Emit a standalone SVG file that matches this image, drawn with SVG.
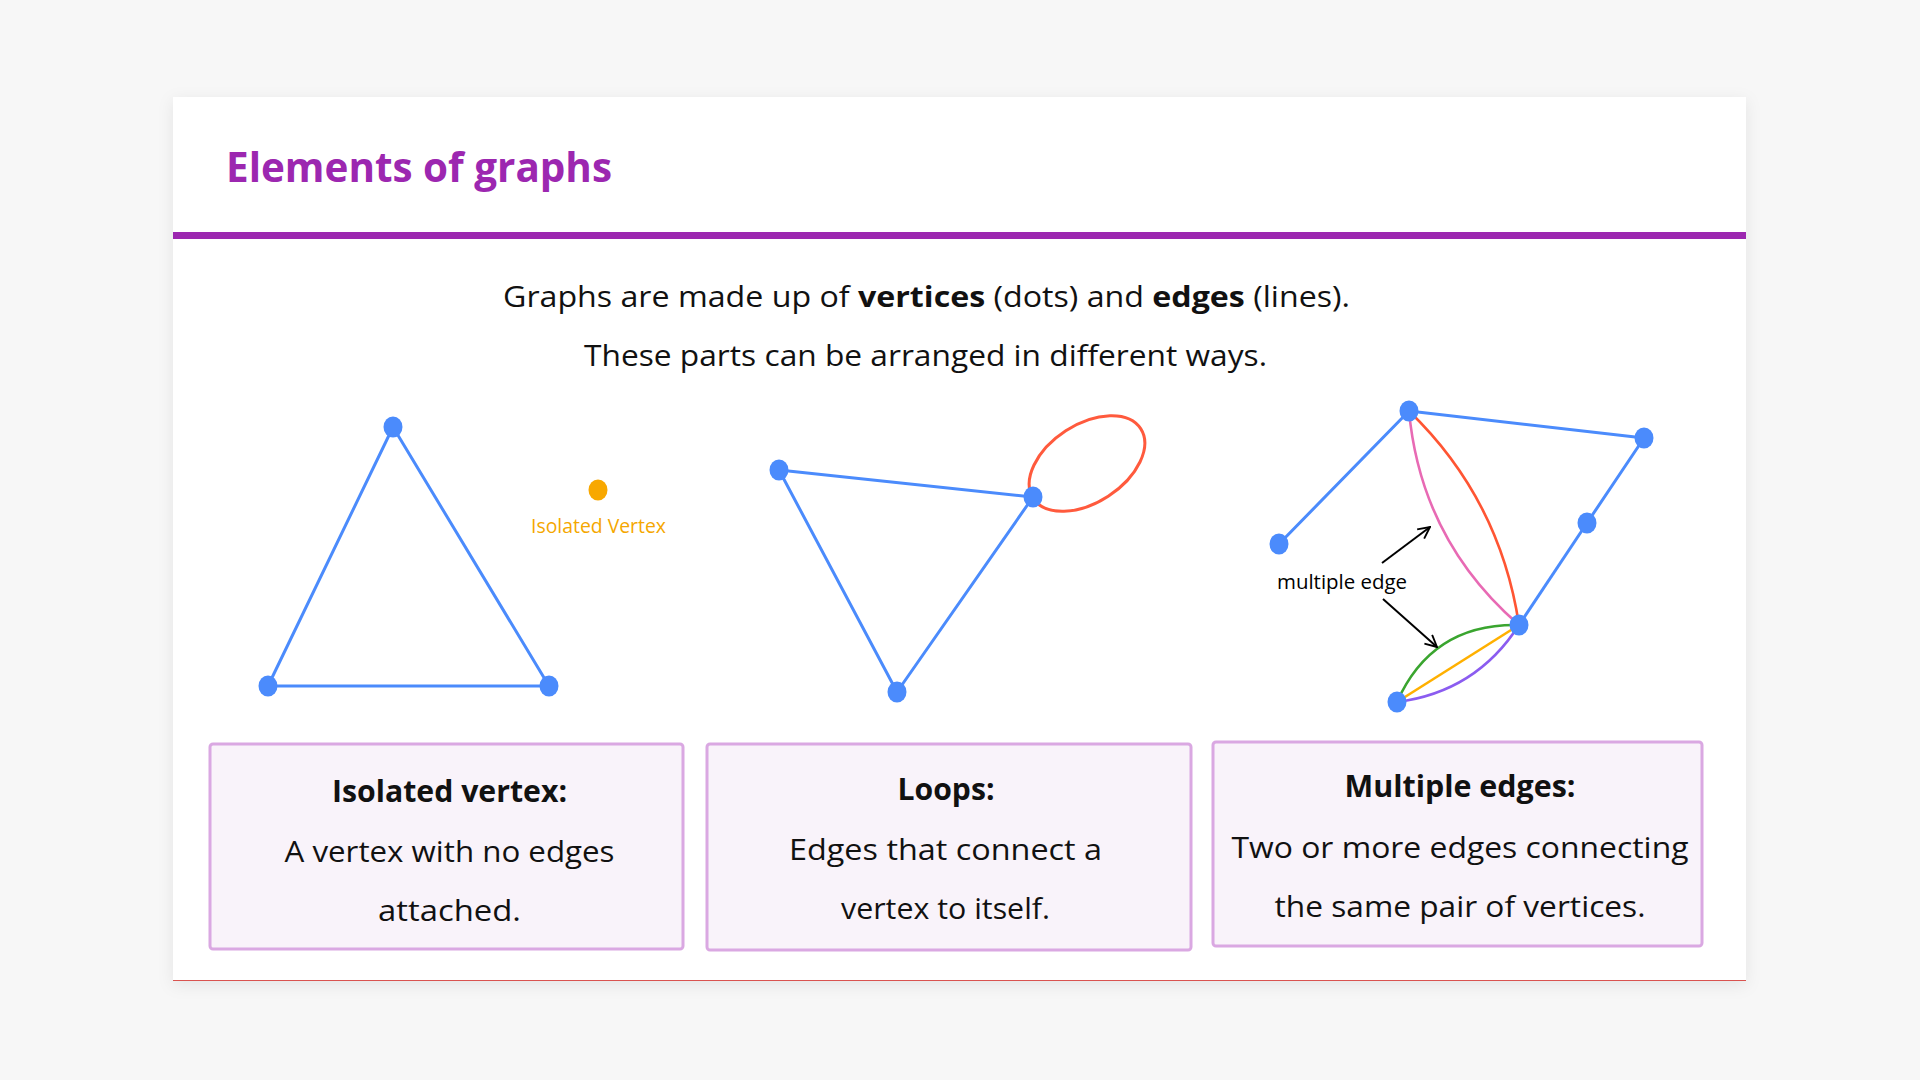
<svg xmlns="http://www.w3.org/2000/svg" width="1920" height="1080" viewBox="0 0 1920 1080">
  <defs>
    <filter id="shadow" x="-5%" y="-5%" width="110%" height="115%">
      <feDropShadow dx="0" dy="4" stdDeviation="8" flood-color="#000" flood-opacity="0.08"/>
    </filter>
    <marker id="chev" viewBox="0 0 12 12" refX="11" refY="6" markerWidth="14" markerHeight="14" markerUnits="userSpaceOnUse" orient="auto">
      <path d="M1,1 L11,6 L1,11" fill="none" stroke="#000" stroke-width="1.6"/>
    </marker>
  </defs>
  <style>
    .sans { font-family: "Open Sans", "Noto Sans", "DejaVu Sans", sans-serif; }
    .title { font-size: 41px; font-weight: 700; fill: #9c27b0; }
    .lead { font-size: 28.5px; fill: #111; }
    .b { font-weight: 700; }
    .head { font-size: 29.5px; font-weight: 700; fill: #111; }
    .body { font-size: 29.5px; fill: #111; }
    .small { font-size: 20px; }
    .box { fill: #f9f3fa; stroke: #daa8e2; stroke-width: 3; }
    .v { fill: #4b8bfc; }
    .e { stroke: #4b8bfc; stroke-width: 3; fill: none; stroke-linecap: round; }
    .arrow { stroke: #000; stroke-width: 2; fill: none; }
  </style>

  <rect x="0" y="0" width="1920" height="1080" fill="#f7f7f7"/>

  <g id="card">
    <rect x="173" y="97" width="1573" height="884" fill="#ffffff" filter="url(#shadow)"/>
    <line x1="173" y1="980.5" x2="1746" y2="980.5" stroke="#d9534f" stroke-width="1.2"/>
    <rect x="173" y="232" width="1573" height="7" fill="#9c27b0"/>
    <text class="sans title" x="226" y="182" textLength="386" lengthAdjust="spacingAndGlyphs">Elements of graphs</text>
    <text class="sans lead" x="926.5" y="307" text-anchor="middle" textLength="847" lengthAdjust="spacingAndGlyphs">Graphs are made up of <tspan class="b">vertices</tspan> (dots) and <tspan class="b">edges</tspan> (lines).</text>
    <text class="sans lead" x="925.5" y="366" text-anchor="middle" textLength="683" lengthAdjust="spacingAndGlyphs">These parts can be arranged in different ways.</text>
  </g>

  <g id="connectors">
    <!-- graph 1: triangle -->
    <line class="e" x1="393" y1="427" x2="268" y2="686"/>
    <line class="e" x1="393" y1="427" x2="549" y2="686"/>
    <line class="e" x1="268" y1="686" x2="549" y2="686"/>
    <!-- graph 2: triangle with loop -->
    <line class="e" x1="779" y1="470" x2="1033" y2="497"/>
    <line class="e" x1="779" y1="470" x2="897" y2="692"/>
    <line class="e" x1="1033" y1="497" x2="897" y2="692"/>
    <ellipse cx="1087" cy="463.5" rx="64" ry="39" transform="rotate(-33 1087 463.5)" fill="none" stroke="#ff5a3d" stroke-width="3"/>
    <!-- graph 3: multiple edges -->
    <line class="e" x1="1409" y1="411" x2="1644" y2="438"/>
    <line class="e" x1="1409" y1="411" x2="1279" y2="544"/>
    <line class="e" x1="1644" y1="438" x2="1587" y2="523"/>
    <line class="e" x1="1587" y1="523" x2="1519" y2="625"/>
    <path d="M1409,411 Q1500,499 1519,625" fill="none" stroke="#ff5533" stroke-width="2.6"/>
    <path d="M1409,411 Q1421,540 1519,625" fill="none" stroke="#e86ab4" stroke-width="2.6"/>
    <path d="M1397,702 Q1432,623 1519,625" fill="none" stroke="#3aa52f" stroke-width="2.6"/>
    <line x1="1397" y1="702" x2="1519" y2="625" stroke="#ffb000" stroke-width="2.6"/>
    <path d="M1397,702 Q1476,692 1519,625" fill="none" stroke="#8b5cf0" stroke-width="2.6"/>
    <line class="arrow" x1="1382" y1="563" x2="1430" y2="527" marker-end="url(#chev)"/>
    <line class="arrow" x1="1383" y1="599" x2="1437" y2="647" marker-end="url(#chev)"/>
  </g>

  <g id="graph1-nodes">
    <ellipse id="g1-top" class="v" cx="393" cy="427" rx="9.5" ry="10.5"/>
    <ellipse id="g1-left" class="v" cx="268" cy="686" rx="9.5" ry="10.5"/>
    <ellipse id="g1-right" class="v" cx="549" cy="686" rx="9.5" ry="10.5"/>
  </g>
  <g id="isolated-vertex">
    <ellipse cx="598" cy="490" rx="9.5" ry="10.5" fill="#f8a800"/>
    <text class="sans small" x="598.5" y="533" text-anchor="middle" fill="#f5a700" textLength="135" lengthAdjust="spacingAndGlyphs">Isolated Vertex</text>
  </g>

  <g id="graph2-nodes">
    <ellipse id="g2-left" class="v" cx="779" cy="470" rx="9.5" ry="10.5"/>
    <ellipse id="g2-right" class="v" cx="1033" cy="497" rx="9.5" ry="10.5"/>
    <ellipse id="g2-bottom" class="v" cx="897" cy="692" rx="9.5" ry="10.5"/>
  </g>

  <g id="graph3-nodes">
    <ellipse id="g3-top" class="v" cx="1409" cy="411" rx="9.5" ry="10.5"/>
    <ellipse id="g3-right" class="v" cx="1644" cy="438" rx="9.5" ry="10.5"/>
    <ellipse id="g3-left" class="v" cx="1279" cy="544" rx="9.5" ry="10.5"/>
    <ellipse id="g3-mid" class="v" cx="1587" cy="523" rx="9.5" ry="10.5"/>
    <ellipse id="g3-hub" class="v" cx="1519" cy="625" rx="9.5" ry="10.5"/>
    <ellipse id="g3-bottom" class="v" cx="1397" cy="702" rx="9.5" ry="10.5"/>
    <text id="multiple-edge-label" class="sans small" x="1277" y="589" fill="#000" textLength="130" lengthAdjust="spacingAndGlyphs">multiple edge</text>
  </g>

  <g id="box-isolated">
    <rect class="box" x="210" y="744" width="473" height="205" rx="3"/>
    <text class="sans head" x="449.5" y="802" text-anchor="middle" textLength="235" lengthAdjust="spacingAndGlyphs">Isolated vertex:</text>
    <text class="sans body" x="449.5" y="862" text-anchor="middle" textLength="330" lengthAdjust="spacingAndGlyphs">A vertex with no edges</text>
    <text class="sans body" x="449.5" y="921" text-anchor="middle" textLength="143" lengthAdjust="spacingAndGlyphs">attached.</text>
  </g>

  <g id="box-loops">
    <rect class="box" x="707" y="744" width="484" height="206" rx="3"/>
    <text class="sans head" x="946" y="800" text-anchor="middle" textLength="97" lengthAdjust="spacingAndGlyphs">Loops:</text>
    <text class="sans body" x="945.5" y="860" text-anchor="middle" textLength="313" lengthAdjust="spacingAndGlyphs">Edges that connect a</text>
    <text class="sans body" x="945.5" y="919" text-anchor="middle" textLength="209" lengthAdjust="spacingAndGlyphs">vertex to itself.</text>
  </g>

  <g id="box-multiple">
    <rect class="box" x="1213" y="742" width="489" height="204" rx="3"/>
    <text class="sans head" x="1460" y="797" text-anchor="middle" textLength="231" lengthAdjust="spacingAndGlyphs">Multiple edges:</text>
    <text class="sans body" x="1460" y="858" text-anchor="middle" textLength="457" lengthAdjust="spacingAndGlyphs">Two or more edges connecting</text>
    <text class="sans body" x="1460" y="917" text-anchor="middle" textLength="371" lengthAdjust="spacingAndGlyphs">the same pair of vertices.</text>
  </g>
</svg>
